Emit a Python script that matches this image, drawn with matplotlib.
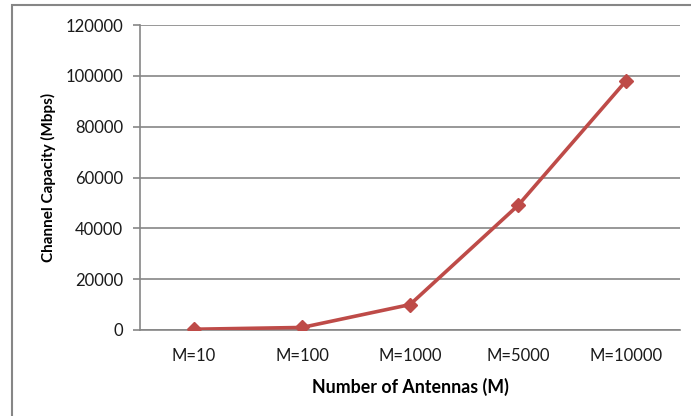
#!/usr/bin/env python3

import matplotlib
matplotlib.use("Agg")
import matplotlib.pyplot as plt
from matplotlib.patches import Rectangle

categories = ["M=10", "M=100", "M=1000", "M=5000", "M=10000"]
capacity = [300, 1000, 10000, 49000, 98000]
yticks = [0, 20000, 40000, 60000, 80000, 100000, 120000]

plt.rcParams["font.family"] = ["Lato", "DejaVu Sans"]

W, H = 691, 416
fig = plt.figure(figsize=(W / 100, H / 100), dpi=100)
ax = fig.add_axes([140 / W, 1 - 330 / H, 540 / W, 305 / H])

x = list(range(len(categories)))
ax.plot(x, capacity, color="#BE4B48", linewidth=2.6, marker="D",
        markersize=7, zorder=3)

ax.set_xlim(-0.5, len(categories) - 0.5)
ax.set_ylim(0, 120000)
ax.set_yticks(yticks)
ax.set_yticklabels([str(v) for v in yticks], fontsize=12, color="#1a1a1a")
ax.set_xticks(x)
ax.set_xticklabels(categories, fontsize=12, color="#1a1a1a")
ax.tick_params(axis="x", length=0, pad=13)
ax.tick_params(axis="y", length=5, width=1.2, color="#868686", pad=7)

ax.grid(axis="y", color="#868686", linewidth=1.2)
ax.set_axisbelow(True)
for side in ["top", "right"]:
    ax.spines[side].set_visible(False)
for side in ["left", "bottom"]:
    ax.spines[side].set_color("#868686")
    ax.spines[side].set_linewidth(1.2)

ax.set_xlabel("Number of Antennas (M)", fontsize=12.8, fontweight="bold",
              color="black", labelpad=10)
ax.set_ylabel("Channel Capacity (Mbps)", fontsize=11, fontweight="bold",
              color="black", labelpad=7)

# outer chart frame, runs past the right and bottom of the picture
fig.patches.append(Rectangle((12 / W, -0.05), 1.0, 1 - 5 / H + 0.05,
                             transform=fig.transFigure, fill=False,
                             edgecolor="#868686", linewidth=1.5))

fig.savefig("out.png", dpi=100)
